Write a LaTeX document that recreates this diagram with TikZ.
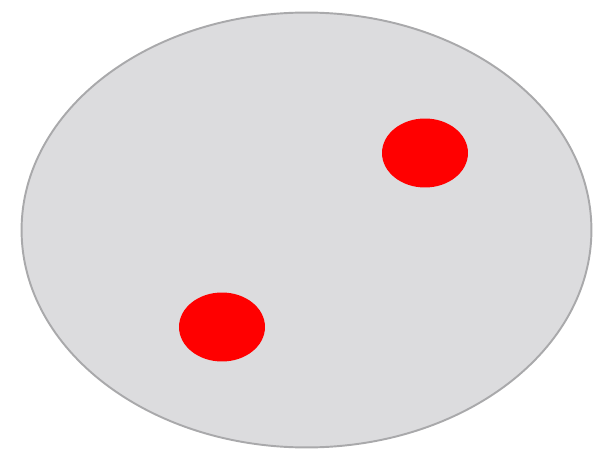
\documentclass[tikz,border=0pt]{standalone}
\usepackage{tikz}
\usetikzlibrary{shapes.geometric}

\definecolor{platefill}{HTML}{DCDCDE}
\definecolor{plateline}{HTML}{A9A9AB}
\definecolor{dotred}{HTML}{FF0000}

\begin{document}
\begin{tikzpicture}[
  x=0.02cm, y=-0.02cm,
  plate/.style={draw=plateline, fill=platefill, line width=1.1pt,
                ellipse, minimum width=11.4cm, minimum height=8.7cm},
  spot/.style={fill=dotred, ellipse, inner sep=0pt,
               minimum width=1.72cm, minimum height=1.38cm}
]
  \useasboundingbox (0,0) rectangle (593,453);
  \node[plate] (P)  at (306.5,230) {};
  \node[spot]  (S1) at (425,153)   {};
  \node[spot]  (S2) at (222,327)   {};
\end{tikzpicture}
\end{document}
